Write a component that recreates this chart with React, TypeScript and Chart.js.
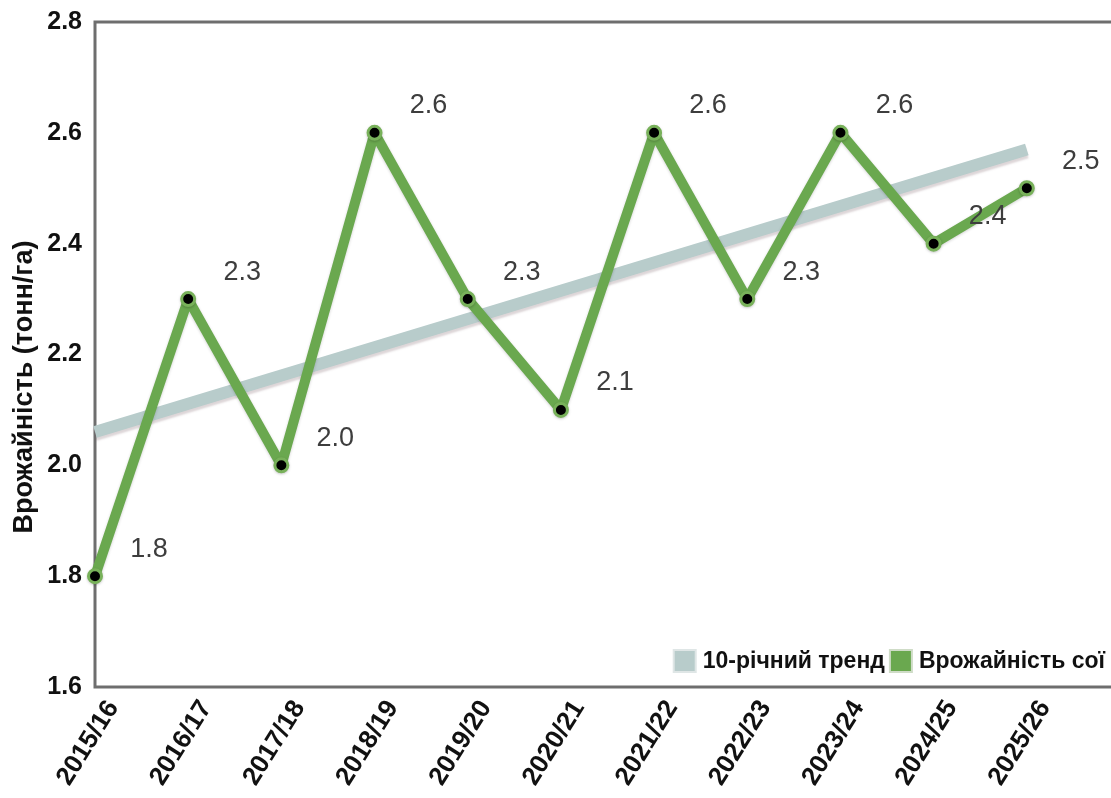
import React, { useEffect, useRef } from "react";
import { Chart, registerables } from "chart.js";

Chart.register(...registerables);

// Marketing years; the trailing blank slot leaves room to the right of the last season.
const seasons = [
  "2015/16", "2016/17", "2017/18", "2018/19", "2019/20", "2020/21",
  "2021/22", "2022/23", "2023/24", "2024/25", "2025/26", "",
];

// Soybean yield, tonnes per hectare
const soyYield = [1.8, 2.3, 2.0, 2.6, 2.3, 2.1, 2.6, 2.3, 2.6, 2.4, 2.5];

// 10-year trend line: start and end values, joined across the gap
const trendYield = [2.06, null, null, null, null, null, null, null, null, null, 2.57];

const yTicks = [1.6, 1.8, 2.0, 2.2, 2.4, 2.6, 2.8];

const yTitle = "Врожайність (тонн/га)";
const trendLabel = "10-річний тренд";
const soyLabel = "Врожайність сої";

const FONT = '"Liberation Sans", Arial, sans-serif';
const GREEN = "#6aa84f";
const TREND = "#b8cccb";
const FRAME = "#6e6e6e";

const CANVAS_W = 1130;
const CANVAS_H = 798;

const framePlugin = {
  id: "frame",
  beforeDatasetsDraw(chart: any) {
    const { ctx, chartArea } = chart;
    ctx.save();
    ctx.strokeStyle = FRAME;
    ctx.lineWidth = 3;
    ctx.strokeRect(chartArea.left, chartArea.top, chartArea.right - chartArea.left, chartArea.bottom - chartArea.top);
    ctx.restore();
  },
};

// Axis title, centred on the full canvas height
const yTitlePlugin = {
  id: "yTitle",
  afterDraw(chart: any) {
    const { ctx, height } = chart;
    ctx.save();
    ctx.translate(25, height / 2 - 12);
    ctx.rotate(-Math.PI / 2);
    ctx.font = `bold 27px ${FONT}`;
    ctx.fillStyle = "#111";
    ctx.textAlign = "center";
    ctx.textBaseline = "middle";
    ctx.fillText(yTitle, 0, 0);
    ctx.restore();
  },
};

const shadowPlugin = {
  id: "lineShadow",
  beforeDatasetDraw(chart: any, args: any) {
    const ctx = chart.ctx;
    ctx.save();
    if (args.index === 1) {
      ctx.shadowColor = "rgba(120, 90, 100, 0.25)";
      ctx.shadowBlur = 2;
      ctx.shadowOffsetY = 3;
    } else {
      ctx.shadowColor = "rgba(0, 0, 0, 0.18)";
      ctx.shadowBlur = 3;
      ctx.shadowOffsetY = 1;
    }
  },
  afterDatasetDraw(chart: any) {
    chart.ctx.restore();
  },
};

const valueLabelPlugin = {
  id: "valueLabels",
  afterDatasetsDraw(chart: any) {
    const { ctx } = chart;
    const meta = chart.getDatasetMeta(0);
    ctx.save();
    ctx.font = `27px ${FONT}`;
    ctx.fillStyle = "#3d3d3d";
    ctx.textAlign = "center";
    ctx.textBaseline = "middle";
    meta.data.forEach((pt: any, i: number) => {
      const v = soyYield[i];
      if (v == null) return;
      ctx.fillText(v.toFixed(1), pt.x + 54, pt.y - 27);
    });
    ctx.restore();
  },
};

const legendPlugin = {
  id: "innerLegend",
  afterDraw(chart: any) {
    const { ctx, chartArea } = chart;
    const items = [
      { text: trendLabel, fill: TREND, edge: "#dfe6e6" },
      { text: soyLabel, fill: GREEN, edge: "#cfdcc7" },
    ];
    ctx.save();
    ctx.font = `bold 23px ${FONT}`;
    ctx.textBaseline = "middle";
    ctx.textAlign = "left";
    const box = 24;
    const gap = 6;
    const widths = items.map((it) => box + gap + ctx.measureText(it.text).width);
    const total = widths.reduce((a, b) => a + b, 0) + 4;
    let x = 1105 - total;
    const cy = chartArea.bottom - 26;
    items.forEach((it, i) => {
      ctx.fillStyle = it.edge;
      ctx.fillRect(x, cy - box / 2, box, box);
      ctx.fillStyle = it.fill;
      ctx.fillRect(x + 2, cy - box / 2 + 2, box - 4, box - 4);
      ctx.fillStyle = "#111";
      ctx.fillText(it.text, x + box + gap, cy + 1);
      x += widths[i] + 4;
    });
    ctx.restore();
  },
};

export default function App() {
  const canvasRef = useRef<HTMLCanvasElement | null>(null);

  useEffect(() => {
    if (!canvasRef.current) return;
    const chart = new Chart(canvasRef.current, {
      type: "line",
      data: {
        labels: seasons,
        datasets: [
          {
            label: soyLabel,
            data: soyYield,
            borderColor: GREEN,
            borderWidth: 10,
            borderJoinStyle: "round",
            borderCapStyle: "round",
            pointRadius: 6.5,
            pointBackgroundColor: "#000",
            pointBorderColor: "#78b15a",
            pointBorderWidth: 3,
            tension: 0,
            order: 0,
          },
          {
            label: trendLabel,
            data: trendYield,
            borderColor: TREND,
            borderWidth: 12,
            pointRadius: 0,
            spanGaps: true,
            borderCapStyle: "butt",
            order: 1,
          },
        ],
      },
      options: {
        animation: false,
        responsive: false,
        devicePixelRatio: 1,
        layout: { padding: { top: 22, right: 10, left: 0, bottom: 0 } },
        plugins: {
          legend: { display: false },
          tooltip: { enabled: false },
        },
        scales: {
          x: {
            type: "category",
            offset: false,
            grid: { display: false, drawTicks: false },
            border: { display: false },
            ticks: {
              autoSkip: false,
              minRotation: 58,
              maxRotation: 58,
              labelOffset: 18,
              padding: 8,
              color: "#111",
              font: { family: FONT, size: 26, weight: "bold" },
            },
            afterFit(scale: any) {
              scale.height = 111;
              scale.paddingLeft = 0;
              scale.paddingRight = 0;
            },
          },
          y: {
            min: 1.6,
            max: 2.8,
            grid: { display: false, drawTicks: false },
            border: { display: false },
            afterBuildTicks(scale: any) {
              scale.ticks = yTicks.map((v) => ({ value: v }));
            },
            ticks: {
              padding: 13,
              color: "#111",
              font: { family: FONT, size: 25, weight: "bold" },
              callback: (v: any) => Number(v).toFixed(1),
            },
            afterFit(scale: any) {
              scale.width = 95;
              scale.paddingTop = 0;
              scale.paddingBottom = 0;
            },
          },
        },
      },
      plugins: [framePlugin, shadowPlugin, valueLabelPlugin, legendPlugin, yTitlePlugin],
    });
    return () => chart.destroy();
  }, []);

  return (
    <div style={{ position: "fixed", left: 0, top: 0, width: 1111, height: 798, overflow: "hidden", background: "#fff" }}>
      <canvas ref={canvasRef} width={CANVAS_W} height={CANVAS_H} style={{ display: "block" }} />
    </div>
  );
}
